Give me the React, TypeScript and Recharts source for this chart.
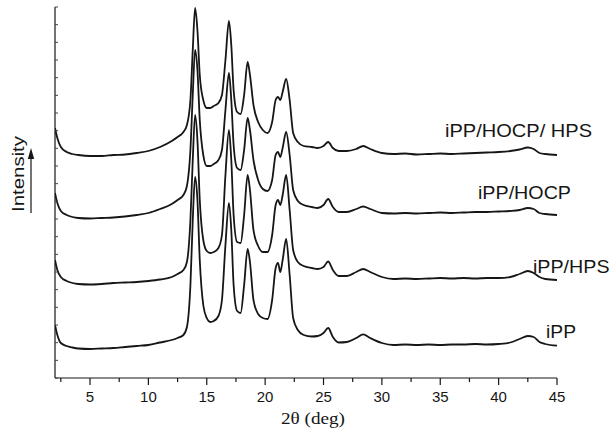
import React from 'react';
import { LineChart, Line, XAxis, YAxis } from 'recharts';

// 2θ grid (deg)
const twoTheta = [
  2, 2.2, 2.5, 3, 3.5, 4, 5, 6, 7, 8, 9, 10, 11, 12, 12.5, 13, 13.3, 13.6, 13.8, 14,
  14.2, 14.4, 14.7, 15, 15.3, 15.6, 16, 16.3, 16.6, 16.9, 17.1, 17.3, 17.6, 17.9, 18.2,
  18.5, 18.7, 19, 19.4, 19.8, 20.2, 20.6, 20.9, 21.1, 21.3, 21.5, 21.8, 22.1, 22.4, 22.8,
  23.3, 24, 24.5, 25, 25.4, 25.8, 26.3, 27, 27.8, 28.4, 29, 30, 31, 32, 33, 34, 35, 36,
  37, 38, 39, 40, 41, 41.8, 42.5, 43, 43.5, 44, 45,
];

// stacked intensities (a.u.), top to bottom
const hocpHps = [
  250, 240, 231, 226, 224, 223, 222, 222, 223, 223.5, 225, 227, 231, 237, 241, 246, 253, 278, 328, 370,
  348, 303, 278, 270, 270, 272, 275, 283, 318, 357, 333, 288, 266, 264, 283,
  316, 303, 273, 256, 248, 245, 256, 278, 281, 278, 286, 299, 278, 245, 236,
  232, 231, 230, 232, 236, 230, 227, 227, 229, 232, 229, 225, 224, 224.5, 223.5, 224, 224.5, 224,
  224.5, 225, 225.5, 226, 227, 228.5, 230.5, 229, 225, 224, 223,
];
const hocp = [
  185, 175, 167, 163, 161, 160, 159.5, 160, 160.5, 161.5, 163, 165, 169, 174, 178, 183, 192, 228, 283, 328,
  308, 258, 223, 212, 212, 214, 218, 228, 268, 305, 278, 233, 210, 208, 228,
  260, 248, 218, 198, 189, 187, 198, 223, 226, 221, 230, 246, 223, 188, 177,
  173, 171, 170, 173, 179, 171, 166, 166, 169, 171.5, 169, 165, 164.5, 165, 164.5, 165, 165.5, 165,
  165.5, 166, 166, 166.5, 167, 168, 170, 169, 165, 164, 163,
];
const hps = [
  118, 108, 101, 97, 95, 94, 93.5, 94, 95, 95.5, 96, 97, 98.5, 101, 104, 108, 116, 158, 218, 263,
  238, 178, 138, 127, 125, 126, 130, 143, 203, 248, 218, 163, 136, 135, 163,
  203, 188, 148, 132, 126, 126, 143, 173, 178, 173, 183, 203, 168, 128, 116,
  112, 110, 109, 111, 116.5, 108, 102, 102, 106, 109, 106, 101, 99, 99.5, 99, 99.5, 100, 99.5,
  100, 99.5, 100, 100, 101, 104, 107, 105, 101, 99, 98,
];
const ipp = [
  53, 43, 35, 32, 30.5, 29.5, 29, 29.5, 30, 31, 32, 33, 35.5, 38, 40, 43, 51, 93, 158, 201,
  178, 118, 73, 60, 56, 57, 62, 78, 133, 175, 148, 93, 67, 65, 93,
  129, 116, 78, 64, 60, 59, 78, 110, 115, 106, 118, 139, 103, 60, 48,
  43, 41.5, 42, 45, 50, 41, 35.5, 36, 40, 43.7, 40, 35, 33, 33.5, 33, 33.5, 33, 33.5,
  33.5, 34, 33.5, 34, 35.5, 39, 42, 41, 36, 34, 32.3,
];

const xTicks = [2.5, 5, 7.5, 10, 12.5, 15, 17.5, 20, 22.5, 25, 27.5, 30, 32.5, 35, 37.5, 40, 42.5, 45];
const yTicks = Array.from({ length: 22 }, (_, i) => (i * 371) / 21);

const series = [
  { key: 'hocpHps', values: hocpHps },
  { key: 'hocp', values: hocp },
  { key: 'hps', values: hps },
  { key: 'ipp', values: ipp },
];

const data = twoTheta.map((x, i) => {
  const row: Record<string, number> = { x };
  series.forEach((s) => {
    row[s.key] = s.values[i];
  });
  return row;
});

const INK = '#161616';
const SANS = '"Liberation Sans", Arial, sans-serif';

const XTick = (props: any) => {
  const { x, y, payload } = props;
  const major = payload.value % 5 === 0;
  return (
    <g>
      <line x1={x} x2={x} y1={y} y2={y + (major ? 7 : 4)} stroke={INK} strokeWidth={1.2} />
      {major && (
        <text x={x} y={y + 23.5} textAnchor="middle" fontSize={15} fontFamily={SANS} fill={INK}>
          {payload.value}
        </text>
      )}
    </g>
  );
};

const YTick = (props: any) => {
  const { x, y } = props;
  return <line x1={x} x2={x + 3} y1={y} y2={y} stroke="#444" strokeWidth={1} />;
};

const seriesLabels = [
  { text: 'iPP/HOCP/ HPS', x: 445, y: 136.5, w: 147 },
  { text: 'iPP/HOCP', x: 478, y: 199.3, w: 93 },
  { text: 'iPP/HPS', x: 533, y: 273.3, w: 76.5 },
  { text: 'iPP', x: 546, y: 337.7, w: 30 },
];

export default function App() {
  return (
    <div style={{ position: 'absolute', left: 0, top: 0, width: 611, height: 435, background: '#fff' }}>
      <LineChart width={611} height={435} data={data} margin={{ top: 7, right: 54, bottom: 0, left: 0 }}>
        <XAxis
          dataKey="x"
          type="number"
          domain={[2, 45]}
          ticks={xTicks}
          interval={0}
          height={57}
          tickSize={0}
          tickMargin={0}
          tickLine={false}
          tick={<XTick />}
          stroke={INK}
          strokeWidth={1.2}
          allowDataOverflow
        />
        <YAxis
          type="number"
          domain={[0, 371]}
          ticks={yTicks}
          interval={0}
          width={55}
          tickSize={0}
          tickMargin={0}
          tickLine={false}
          tick={<YTick />}
          stroke={INK}
          strokeWidth={1.2}
          allowDataOverflow
        />
        {series.map((s) => (
          <Line
            key={s.key}
            dataKey={s.key}
            type="monotoneX"
            stroke={INK}
            strokeWidth={1.8}
            dot={false}
            isAnimationActive={false}
          />
        ))}
      </LineChart>
      <svg
        width={611}
        height={435}
        style={{ position: 'absolute', left: 0, top: 0, pointerEvents: 'none' }}
      >
        {seriesLabels.map((l) => (
          <text
            key={l.text}
            x={l.x}
            y={l.y}
            fontSize={18.5}
            fontFamily={SANS}
            fill={INK}
            textLength={l.w}
            lengthAdjust="spacingAndGlyphs"
          >
            {l.text}
          </text>
        ))}
        <text
          x={313}
          y={424}
          textAnchor="middle"
          fontSize={17}
          fontFamily='"Liberation Serif", "Times New Roman", serif'
          fill={INK}
          textLength={64}
          lengthAdjust="spacingAndGlyphs"
        >
          2θ (deg)
        </text>
        <text
          transform="translate(24,174) rotate(-90)"
          textAnchor="middle"
          fontSize={16}
          fontFamily={SANS}
          fill={INK}
          textLength={76}
          lengthAdjust="spacingAndGlyphs"
        >
          Intensity
        </text>
        <line x1={31} x2={31} y1={213} y2={156} stroke={INK} strokeWidth={1.2} />
        <path d="M31,148 L27.8,159 L34.2,159 Z" fill={INK} />
      </svg>
    </div>
  );
}
